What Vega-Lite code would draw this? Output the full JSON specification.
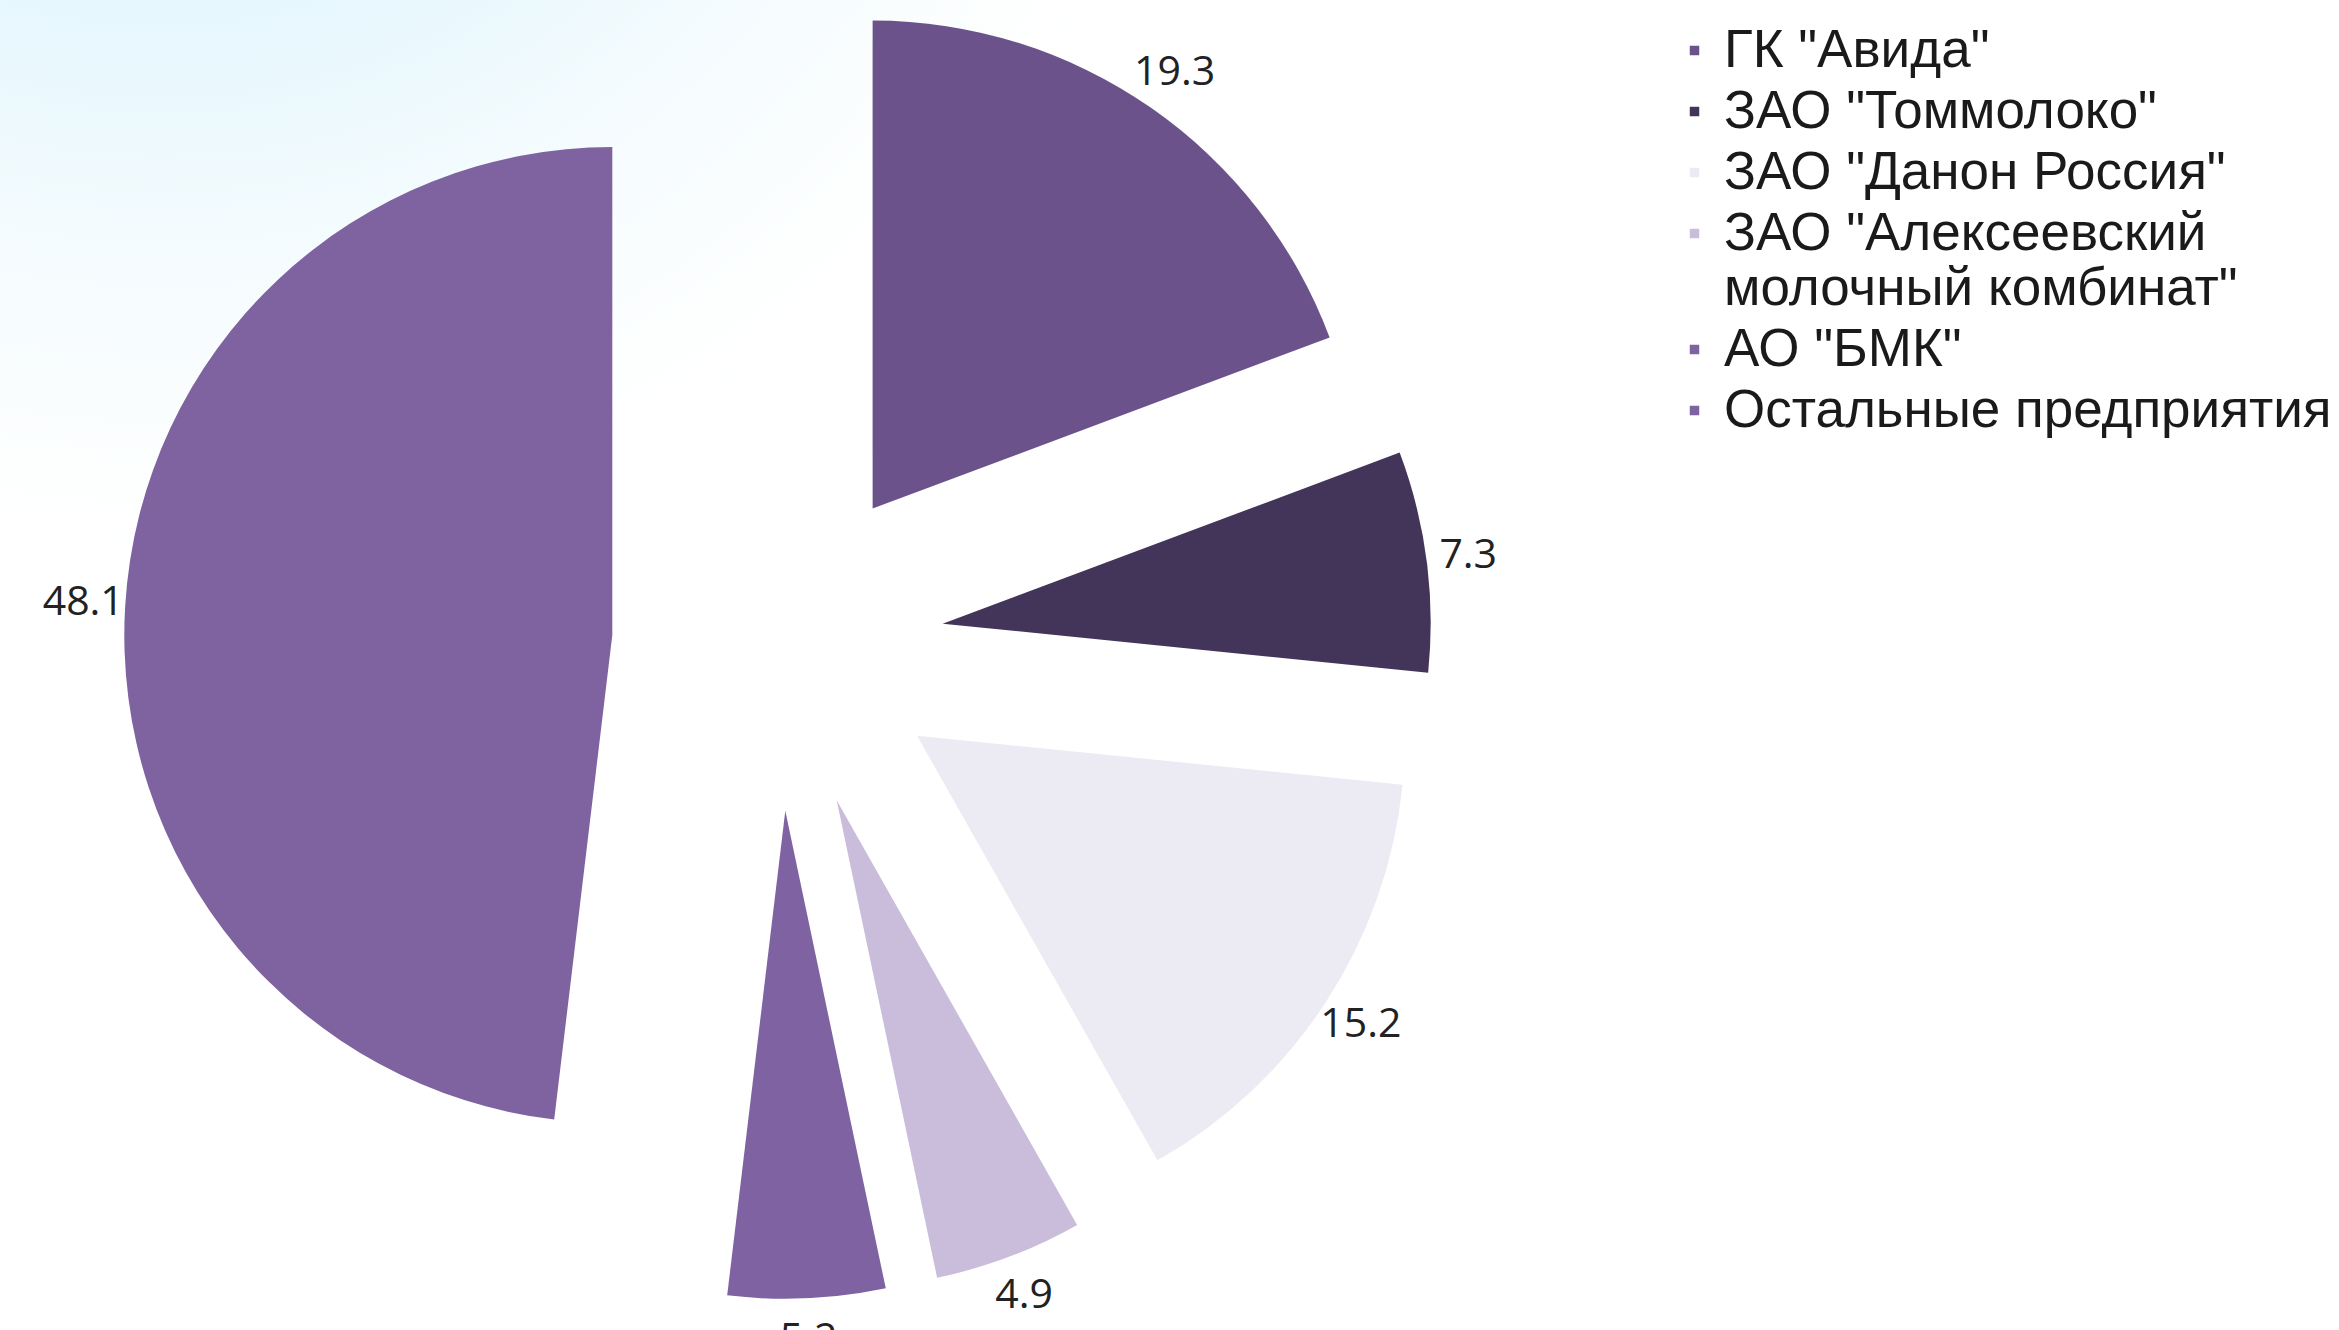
{
  "$schema": "https://vega.github.io/schema/vega-lite/v6.json",
  "width": 2339,
  "height": 1330,
  "padding": 0,
  "autosize": {"type": "none"},
  "background": "white",
  "config": {
    "view": {
      "stroke": null,
      "fill": {
        "gradient": "radial",
        "x1": 0.07, "y1": 0.0, "r1": 0,
        "x2": 0.07, "y2": 0.0, "r2": 0.45,
        "stops": [
          {"offset": 0, "color": "#c8ecfa"},
          {"offset": 0.4, "color": "#e0f5fd"},
          {"offset": 0.75, "color": "#f6fcfe"},
          {"offset": 1, "color": "#ffffff"}
        ]
      }
    }
  },
  "data": {
    "values": [
      {"company": "ГК \"Авида\"", "share": 19.3},
      {"company": "ЗАО \"Томмолоко\"", "share": 7.3},
      {"company": "ЗАО \"Данон Россия\"", "share": 15.2},
      {"company": "ЗАО \"Алексеевский молочный комбинат\"", "share": 4.9},
      {"company": "АО \"БМК\"", "share": 5.2},
      {"company": "Остальные предприятия", "share": 48.1}
    ]
  },
  "transform": [
    {"window": [{"op": "row_number", "as": "idx"}]},
    {"stack": "share", "groupby": [], "sort": [{"field": "idx", "order": "ascending"}], "as": ["s0", "s1"]},
    {"calculate": "(datum.s0 + datum.s1) / 2", "as": "smid"},
    {"calculate": "sin(2 * PI * datum.smid / 100)", "as": "ex"},
    {"calculate": "cos(2 * PI * datum.smid / 100)", "as": "ey"}
  ],
  "encoding": {
    "x": {"field": "ex", "type": "quantitative", "scale": {"domain": [-4.687, 9.404], "nice": false, "zero": false}, "axis": null},
    "y": {"field": "ey", "type": "quantitative", "scale": {"domain": [-4.127, 3.886], "nice": false, "zero": false}, "axis": null}
  },
  "layer": [
    {
      "mark": {"type": "arc", "radius": 488, "strokeWidth": 0},
      "encoding": {
        "theta": {"field": "s0", "type": "quantitative", "scale": {"domain": [0, 100], "nice": false}},
        "theta2": {"field": "s1"},
        "color": {
          "field": "company",
          "type": "nominal",
          "scale": {
            "domain": ["ГК \"Авида\"", "ЗАО \"Томмолоко\"", "ЗАО \"Данон Россия\"", "ЗАО \"Алексеевский молочный комбинат\"", "АО \"БМК\"", "Остальные предприятия"],
            "range": ["#6b528b", "#43345a", "#ecebf3", "#c9bddb", "#7e62a2", "#7f63a0"]
          },
          "legend": {
            "orient": "none",
            "legendX": 1668,
            "legendY": 24,
            "title": null,
            "symbolType": "square",
            "symbolSize": 90,
            "symbolStrokeWidth": 0,
            "labelFontSize": 53,
            "labelFont": "Liberation Sans",
            "labelColor": "#1a1a1a",
            "labelLimit": 0,
            "labelOffset": 3,
            "rowPadding": 7,
            "labelExpr": "datum.label == 'ЗАО \"Алексеевский молочный комбинат\"' ? ['ЗАО \"Алексеевский', 'молочный комбинат\"'] : datum.label"
          }
        }
      }
    },
    {
      "mark": {"type": "text", "radius": 530, "fontSize": 41, "font": "Open Sans", "color": "#222222"},
      "encoding": {
        "theta": {"field": "smid", "type": "quantitative", "scale": {"domain": [0, 100], "nice": false}},
        "text": {"field": "share", "type": "quantitative", "format": ".1f"}
      }
    }
  ]
}
